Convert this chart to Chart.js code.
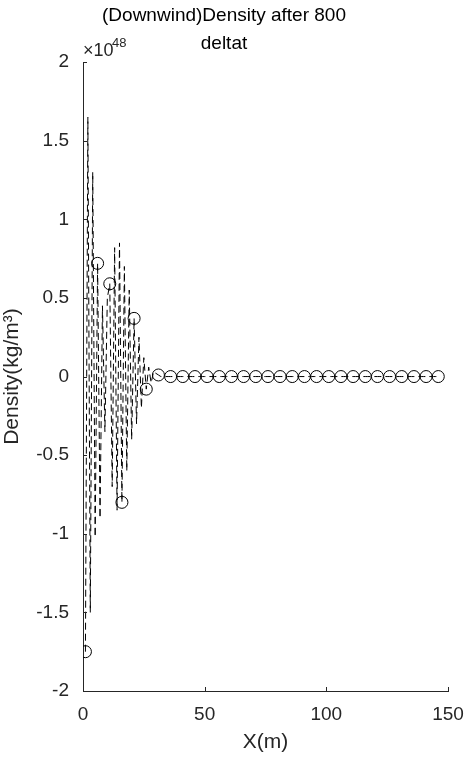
<!DOCTYPE html>
<html>
<head>
<meta charset="utf-8">
<script src="https://cdn.jsdelivr.net/npm/chart.js@4"></script>
<style>
html,body{margin:0;padding:0;background:#fff;}
</style>
</head>
<body>
<canvas id="c" width="468" height="761"></canvas>
<script>
// density values (x 1e48), one per grid point x = 1..31, zero after
const headValues = [-1.75, 1.65, -1.5, 1.3, -1.02, 0.72, -0.9, 0.45, -0.35, 0.5, 0.59, -0.7, 0.82, -0.85, 0.85, -0.8, 0.7, -0.6, 0.55, -0.4, 0.37, -0.3, 0.25, -0.2, 0.12, -0.08, 0.06, -0.04, 0.03, 0.02, 0.01];
const lastX = 146;
const yTicks = [-2, -1.5, -1, -0.5, 0, 0.5, 1, 1.5, 2];
const xTicks = [0, 50, 100, 150];

const linePts = [];
for (let x = 1; x <= lastX; x++) {
    linePts.push({x: x, y: x <= headValues.length ? headValues[x - 1] : 0});
}
const markerPts = linePts.filter(p => (p.x - 1) % 5 === 0);

const font = 'Arial, "Liberation Sans", sans-serif';

// inward tick marks and the exponent label, MATLAB style
const decor = {
    id: 'decor',
    afterDraw(chart) {
        const c = chart.ctx, xs = chart.scales.x, ys = chart.scales.y, a = chart.chartArea;
        c.save();
        c.strokeStyle = '#262626';
        c.lineWidth = 1;
        c.beginPath();
        yTicks.forEach(v => { const y = Math.round(ys.getPixelForValue(v)) + 0.5; c.moveTo(a.left, y); c.lineTo(a.left + 4, y); });
        xTicks.forEach(v => { const x = Math.round(xs.getPixelForValue(v)) + 0.5; c.moveTo(x, a.bottom); c.lineTo(x, a.bottom - 4); });
        c.stroke();
        c.fillStyle = '#262626';
        c.font = '18px ' + font;
        c.textBaseline = 'alphabetic';
        c.fillText('\u00d710', a.left, a.top - 6);
        c.font = '13px ' + font;
        c.fillText('48', a.left + 29, a.top - 15);
        c.restore();
    }
};

new Chart(document.getElementById('c'), {
    type: 'scatter',
    data: {
        datasets: [{
            data: linePts,
            showLine: true,
            borderColor: '#000',
            borderWidth: 1,
            borderDash: [7, 4],
            pointRadius: 0,
            tension: 0
        }, {
            data: markerPts,
            showLine: false,
            borderColor: '#000',
            backgroundColor: 'rgba(0,0,0,0)',
            borderWidth: 1,
            pointRadius: 6
        }]
    },
    options: {
        responsive: false,
        animation: false,
        devicePixelRatio: 1,
        layout: {padding: {top: 2, right: 20, left: 0, bottom: 6}},
        plugins: {
            legend: {display: false},
            tooltip: {enabled: false},
            title: {
                display: true,
                text: ['(Downwind)Density after 800', 'deltat'],
                color: '#000',
                font: {family: font, size: 19, weight: 'normal', lineHeight: 1.45},
                padding: {top: 0, bottom: 5}
            }
        },
        scales: {
            x: {
                type: 'linear', min: 0, max: 150,
                afterBuildTicks: s => { s.ticks = xTicks.map(v => ({value: v})); },
                grid: {display: false},
                border: {color: '#262626'},
                ticks: {color: '#262626', font: {family: font, size: 19}, padding: 4},
                title: {display: true, text: 'X(m)', color: '#262626', font: {family: font, size: 21}, padding: {top: 0, bottom: 0}}
            },
            y: {
                min: -2, max: 2,
                afterBuildTicks: s => { s.ticks = yTicks.map(v => ({value: v})); },
                afterFit: s => { s.width = 83; },
                grid: {display: false},
                border: {color: '#262626'},
                ticks: {color: '#262626', font: {family: font, size: 19}, padding: 6, callback: v => String(v)},
                title: {display: true, text: 'Density(kg/m\u00b3)', color: '#262626', font: {family: font, size: 21}, padding: 0}
            }
        }
    },
    plugins: [decor]
});
</script>
</body>
</html>
